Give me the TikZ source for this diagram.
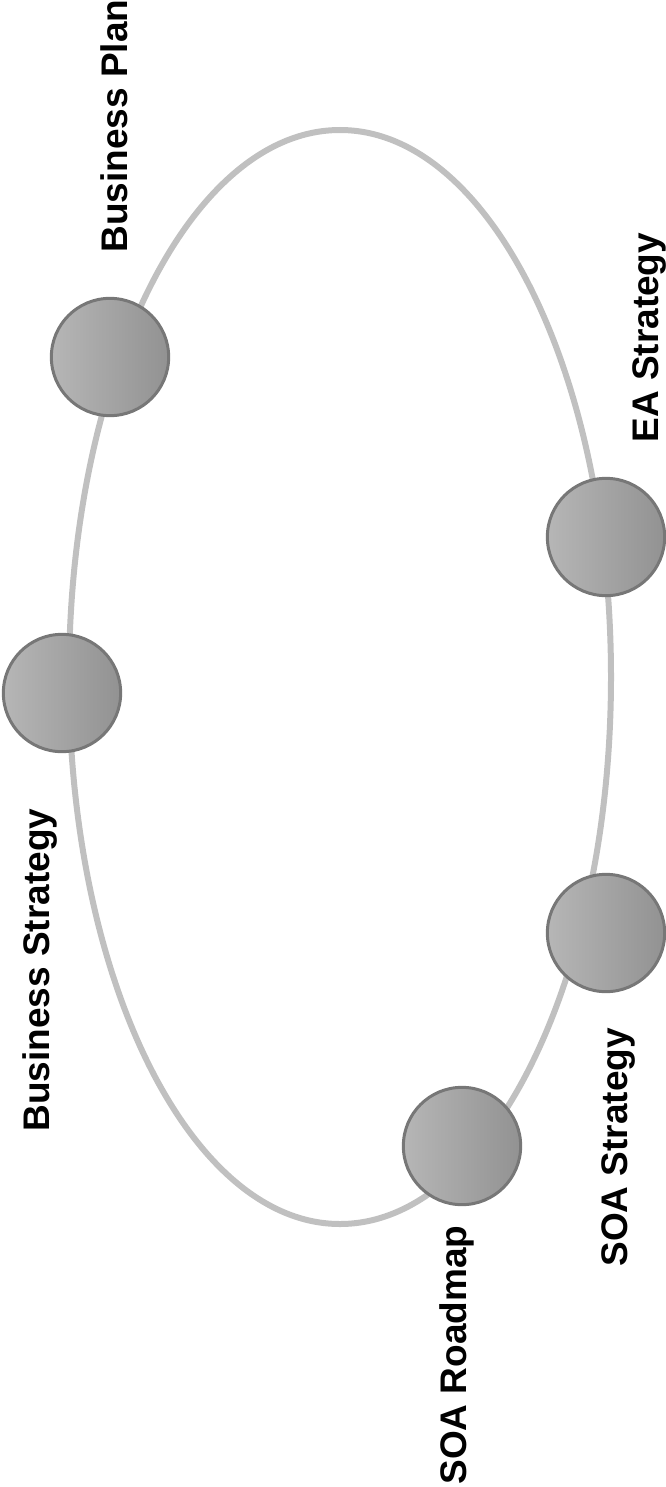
\documentclass[tikz,border=0pt]{standalone}
\usepackage{fontspec}
\setmainfont{Liberation Sans}

\definecolor{ringgray}{RGB}{192,192,192}
\definecolor{rimgray}{RGB}{119,119,119}
\definecolor{lightfill}{RGB}{182,182,182}
\definecolor{darkfill}{RGB}{146,146,146}

\tikzset{every picture/.style={line width=0.75pt}}
\tikzset{
  stage/.style={circle, draw=rimgray, line width=2.25pt, left color=lightfill, right color=darkfill, minimum size=88pt, inner sep=0pt},
  stagelabel/.style={rotate=90, anchor=base west, inner sep=0pt, font=\fontsize{27.75}{29}\selectfont\bfseries}
}

\begin{document}
\begin{tikzpicture}[x=0.75pt,y=0.75pt,yscale=-1,xscale=1]
    \useasboundingbox (0,0) rectangle (666,1487);

    %Shape: Ellipse [id:ring]
    \draw [color=ringgray, line width=4.5pt] (340,677) ellipse (271 and 547);

    %Shape: Circle [id:stages]
    \node [stage] (plan) at (110,357) {};
    \node [stage] (bstrategy) at (62,693) {};
    \node [stage] (eastrategy) at (606,537) {};
    \node [stage] (soastrategy) at (606,933) {};
    \node [stage] (roadmap) at (462,1146) {};

    % Text Node
    \node [stagelabel] (planlabel) at (127,253) {Business Plan};
    % Text Node
    \node [stagelabel] (bstrategylabel) at (49,1132) {Business Strategy};
    % Text Node
    \node [stagelabel] (eastrategylabel) at (658,443) {EA Strategy};
    % Text Node
    \node [stagelabel] (soastrategylabel) at (627,1267) {SOA Strategy};
    % Text Node
    \node [stagelabel] (roadmaplabel) at (466,1485) {SOA Roadmap};

\end{tikzpicture}
\end{document}
